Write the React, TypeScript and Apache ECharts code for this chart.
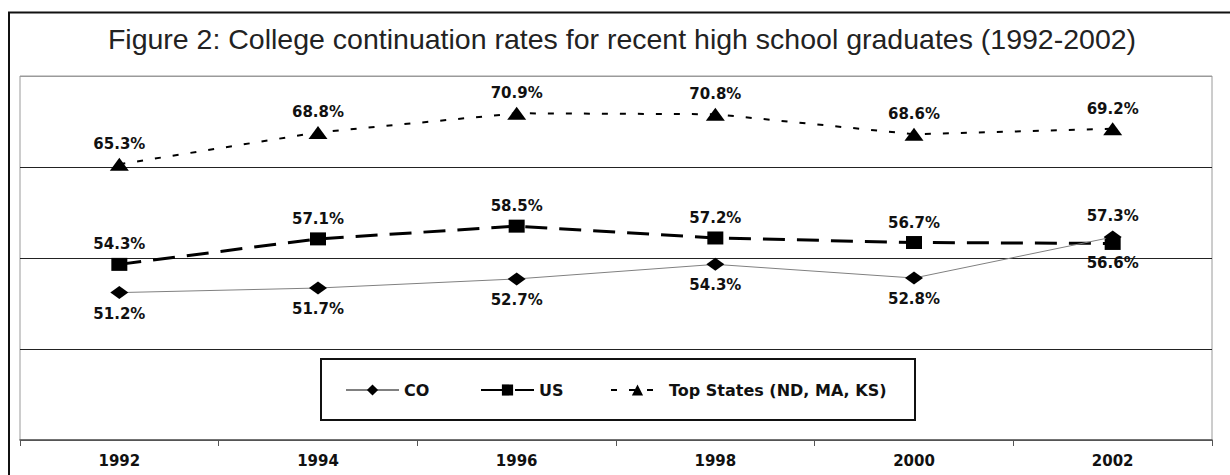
import React, { useEffect, useRef } from "react";
import * as echarts from "echarts";

const years = ["1992", "1994", "1996", "1998", "2000", "2002"];
const coValues = [51.2, 51.7, 52.7, 54.3, 52.8, 57.3];
const usValues = [54.3, 57.1, 58.5, 57.2, 56.7, 56.6];
const topValues = [65.3, 68.8, 70.9, 70.8, 68.6, 69.2];
const seriesNames = ["CO", "US", "Top States (ND, MA, KS)"];
const titleText =
  "Figure 2: College continuation rates for recent high school graduates (1992-2002)";
const yMin = 35;
const yMax = 75;
const yInterval = 10;

const TITLE_FONT = '"Liberation Sans", Arial, Helvetica, sans-serif';
const BOLD_FONT = '"DejaVu Sans", "Liberation Sans", Arial, sans-serif';

export default function App() {
  const ref = useRef<HTMLDivElement>(null);

  useEffect(() => {
    document.body.style.margin = "0";
    document.body.style.overflow = "hidden";
    const chart = echarts.init(ref.current!, null, { renderer: "svg" });
    const labelStyle = {
      show: true,
      fontFamily: BOLD_FONT,
      fontSize: 15,
      fontWeight: "bold" as const,
      color: "#111",
      formatter: (p: any) => Number(p.value).toFixed(1) + "%",
    };
    const last = years.length - 1;
    const coData = coValues.map((v, i) =>
      i === last ? { value: v, label: { position: "top" } } : v
    );
    const usData = usValues.map((v, i) =>
      i === last ? { value: v, label: { position: "bottom" } } : v
    );
    const legendBase = {
      top: 382,
      itemWidth: 53,
      itemHeight: 14,
      itemGap: 0,
      padding: 0,
      textStyle: {
        fontFamily: BOLD_FONT,
        fontSize: 16,
        fontWeight: "bold",
        color: "#111",
      },
    };
    chart.setOption({
      animation: false,
      backgroundColor: "#fff",
      textStyle: { fontFamily: BOLD_FONT },
      grid: {
        left: 20,
        right: 18,
        top: 76,
        bottom: 35,
        show: true,
        borderColor: "#9a9a9a",
        borderWidth: 1,
        backgroundColor: "#fff",
      },
      xAxis: {
        type: "category",
        data: years,
        boundaryGap: true,
        axisLine: { show: true, lineStyle: { color: "#555", width: 1.5 } },
        axisTick: {
          show: true,
          inside: false,
          length: 6,
          alignWithLabel: false,
          lineStyle: { color: "#555", width: 1 },
        },
        axisLabel: {
          fontFamily: BOLD_FONT,
          fontSize: 15,
          fontWeight: "bold",
          color: "#111",
          margin: 13,
        },
        splitLine: { show: false },
      },
      yAxis: {
        type: "value",
        min: yMin,
        max: yMax,
        interval: yInterval,
        axisLine: { show: false },
        axisTick: { show: false },
        axisLabel: { show: false },
        splitLine: {
          show: true,
          lineStyle: {
            color: ["#555", "#222", "#222", "#222", "#9a9a9a"],
            width: 1,
          },
        },
      },
      legend: [
        { ...legendBase, left: 345, data: [seriesNames[0]] },
        { ...legendBase, left: 480, data: [seriesNames[1]] },
        { ...legendBase, left: 610, data: [seriesNames[2]] },
      ],
      graphic: [
        {
          type: "line",
          shape: { x1: 9, y1: 12, x2: 9, y2: 480 },
          style: { stroke: "#111", lineWidth: 2 },
          z: 100,
        },
        {
          type: "line",
          shape: { x1: 8, y1: 12.5, x2: 1235, y2: 12.5 },
          style: { stroke: "#111", lineWidth: 2 },
          z: 100,
        },
        {
          type: "text",
          x: 622,
          y: 38.5,
          style: {
            text: titleText,
            fontFamily: TITLE_FONT,
            fontSize: 28.5,
            fill: "#222",
            textAlign: "center",
            textVerticalAlign: "middle",
          },
        },
        {
          type: "rect",
          shape: { x: 321, y: 359, width: 594, height: 61 },
          style: { fill: "#fff", stroke: "#111", lineWidth: 2 },
          z: 1,
        },
      ],
      series: [
        {
          name: seriesNames[1],
          type: "line",
          data: usData,
          symbol: "rect",
          symbolSize: [16, 13],
          lineStyle: { color: "#000", width: 3, type: [22, 12] },
          itemStyle: { color: "#000" },
          label: { ...labelStyle, position: "top", distance: 6 },
          z: 3,
        },
        {
          name: seriesNames[2],
          type: "line",
          data: topValues,
          symbol: "triangle",
          symbolSize: [19, 13],
          lineStyle: { color: "#000", width: 2, type: [6, 12] },
          itemStyle: { color: "#000" },
          label: { ...labelStyle, position: "top", distance: 6 },
          z: 3,
        },
        {
          name: seriesNames[0],
          type: "line",
          data: coData,
          symbol: "diamond",
          symbolSize: [18, 13],
          lineStyle: { color: "#808080", width: 1 },
          itemStyle: { color: "#000" },
          label: { ...labelStyle, position: "bottom", distance: 7 },
          z: 4,
        },
      ],
    });
    return () => chart.dispose();
  }, []);

  return <div ref={ref} style={{ width: 1230, height: 475 }} />;
}
